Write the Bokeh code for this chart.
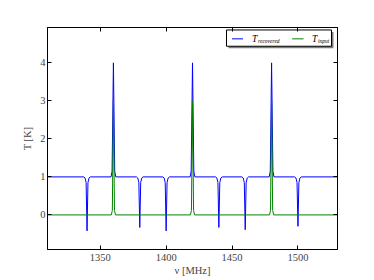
from bokeh.plotting import figure
from bokeh.models import Range1d, LinearAxis, FixedTicker
from bokeh.core.properties import value
from bokeh.embed import file_html
from bokeh.resources import INLINE

# ---- data ----
freq_recovered = [1310, 1337.5, 1338.5, 1339.3, 1340, 1340.7, 1341.5, 1342.5,
                  1358.2, 1359, 1360, 1361, 1361.8,
                  1377.5, 1378.5, 1379.3, 1380, 1380.7, 1381.5, 1382.5,
                  1397.5, 1398.5, 1399.3, 1400, 1400.7, 1401.5, 1402.5,
                  1418.2, 1419, 1420, 1421, 1421.8,
                  1437.5, 1438.5, 1439.3, 1440, 1440.7, 1441.5, 1442.5,
                  1457.5, 1458.5, 1459.3, 1460, 1460.7, 1461.5, 1462.5,
                  1478.2, 1479, 1480, 1481, 1481.8,
                  1497.5, 1498.5, 1499.3, 1500, 1500.7, 1501.5, 1502.5,
                  1530]
t_recovered = [1.0, 1.0, 0.97, 0.85, -0.42, 0.85, 0.97, 1.0,
               1.0, 1.15, 4.0, 1.15, 1.0,
               1.0, 0.97, 0.85, -0.33, 0.85, 0.97, 1.0,
               1.0, 0.97, 0.85, -0.42, 0.85, 0.97, 1.0,
               1.0, 1.15, 4.0, 1.15, 1.0,
               1.0, 0.97, 0.85, -0.33, 0.85, 0.97, 1.0,
               1.0, 0.97, 0.85, -0.39, 0.85, 0.97, 1.0,
               1.0, 1.15, 4.0, 1.15, 1.0,
               1.0, 0.97, 0.85, -0.30, 0.85, 0.97, 1.0,
               1.0]
freq_input = [1310, 1358.4, 1359.2, 1360, 1360.8, 1361.6,
              1418.4, 1419.2, 1420, 1420.8, 1421.6,
              1478.4, 1479.2, 1480, 1480.8, 1481.6, 1530]
t_input = [0.0, 0.0, 0.12, 3.0, 0.12, 0.0,
           0.0, 0.12, 3.0, 0.12, 0.0,
           0.0, 0.12, 3.0, 0.12, 0.0, 0.0]
x_ticks = [1350, 1400, 1450, 1500]
y_ticks = [0, 1, 2, 3, 4]
x_lim = (1310, 1530)
y_lim = (-0.91, 4.93)
legend_labels = [("T", "recovered"), ("T", "input")]
colors = ["#0000ff", "#008000"]

FONT = "Liberation Serif"
W, H = 366, 278
FL, FR, FT, FB = 47.0, 337.0, 27.0, 252.0  # frame edges in figure px

p = figure(width=W, height=H, x_range=Range1d(*x_lim), y_range=Range1d(*y_lim),
           output_backend="svg", toolbar_location=None,
           min_border_left=int(FL), min_border_right=int(W - FR), min_border_top=int(FT),
           min_border_bottom=int(H - FB))
p.background_fill_color = "white"
p.border_fill_color = "white"
p.outline_line_color = "black"
p.outline_line_width = 1
p.grid.visible = False

p.xaxis.axis_label = "ν [MHz]"
p.yaxis.axis_label = "T [K]"
for ax in (p.xaxis[0], p.yaxis[0]):
    ax.axis_label_text_font = FONT
    ax.axis_label_text_font_style = "normal"
    ax.axis_label_text_font_size = "10.5px"
    ax.major_label_text_font = FONT
    ax.major_label_text_font_size = "10.5px"
    ax.major_tick_in = 4
    ax.major_tick_out = 0
    ax.minor_tick_in = 0
    ax.minor_tick_out = 0
    ax.axis_line_color = "black"
    ax.major_tick_line_color = "black"
    ax.major_label_standoff = 2
p.xaxis.ticker = FixedTicker(ticks=x_ticks)
p.yaxis.ticker = FixedTicker(ticks=y_ticks)
p.xaxis.major_label_standoff = 4
p.xaxis.axis_label_standoff = 1
p.yaxis.axis_label_standoff = 4

top = LinearAxis(ticker=FixedTicker(ticks=x_ticks),
                 major_label_overrides={t: "" for t in x_ticks},
                 major_tick_in=4, major_tick_out=0, minor_tick_in=0, minor_tick_out=0,
                 major_label_standoff=0)
right = LinearAxis(ticker=FixedTicker(ticks=y_ticks),
                   major_label_overrides={t: "" for t in y_ticks},
                   major_tick_in=4, major_tick_out=0, minor_tick_in=0, minor_tick_out=0,
                   major_label_standoff=0)
p.add_layout(top, "above")
p.add_layout(right, "right")

p.line(freq_recovered, t_recovered, line_color=colors[0], line_width=1)
p.line(freq_input, t_input, line_color=colors[1], line_width=1)

# ---- legend (drawn by hand, positions in figure pixels) ----
def dx(px):
    return x_lim[0] + (px - FL) / (FR - FL) * (x_lim[1] - x_lim[0])

def dy(py):
    return y_lim[1] - (py - FT) / (FB - FT) * (y_lim[1] - y_lim[0])

bx0, bx1, by0, by1 = 226.0, 331.0, 29.5, 46.0
p.quad(left=[dx(bx0 + 2)], right=[dx(bx1 + 2)], top=[dy(by0 + 2)], bottom=[dy(by1 + 2)],
       fill_color="#7f7f7f", line_color=None)
p.quad(left=[dx(bx0)], right=[dx(bx1)], top=[dy(by0)], bottom=[dy(by1)],
       fill_color="white", line_color="black", line_width=1)
ly = 38.5
entries = [(231.5, 242.5, 251.5), (291.7, 303.0, 311.5)]
for (lx0, lx1, tx), (main, sub), c in zip(entries, legend_labels, colors):
    p.line([dx(lx0), dx(lx1)], [dy(ly), dy(ly)], line_color=c, line_width=1)
    p.text(x=[dx(tx)], y=[dy(ly)], text=[main], text_font=value(FONT),
           text_font_style="italic", text_font_size="9.5px", text_baseline="middle",
           text_align="left", text_color="black")
    p.text(x=[dx(tx + 6)], y=[dy(ly + 2)], text=[sub], text_font=value(FONT),
           text_font_style="italic", text_font_size="5.5px", text_baseline="middle",
           text_align="left", text_color="black")

open("out.html", "w").write(file_html(p, INLINE))
